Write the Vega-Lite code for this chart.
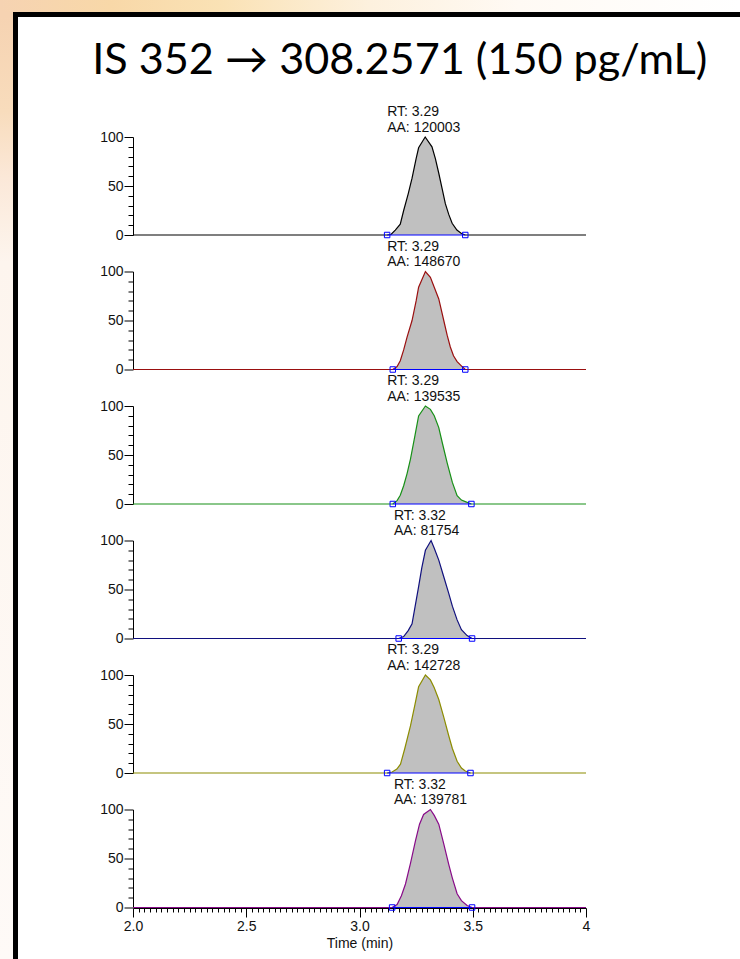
{
  "$schema": "https://vega.github.io/schema/vega-lite/v6.json",
  "background": "white",
  "padding": 0,
  "spacing": 0,
  "config": {
    "view": {"stroke": null},
    "concat": {"spacing": 0},
    "axis": {
      "labelFont": "Liberation Sans",
      "labelFontSize": 14,
      "labelColor": "#111111",
      "titleFont": "Liberation Sans",
      "titleFontSize": 14,
      "titleFontWeight": "normal",
      "titleColor": "#111111",
      "domainColor": "black",
      "tickColor": "black",
      "grid": false
    }
  },
  "vconcat": [
    {
      "width": 740,
      "height": 12,
      "data": {"values": [{}]},
      "mark": {"type": "rect", "fill": {"gradient": "linear", "x1": 0, "y1": 0, "x2": 1, "y2": 0, "stops": [{"offset": 0, "color": "#f6d3b2"}, {"offset": 0.15, "color": "#f8d8a8"}, {"offset": 0.3, "color": "#fae2b5"}, {"offset": 0.5, "color": "#fdf1de"}, {"offset": 0.7, "color": "#fffaf4"}, {"offset": 1, "color": "#ffffff"}]}},
      "encoding": {}
    },
    {
      "spacing": 0,
      "hconcat": [
        {
          "width": 13,
          "height": 5,
          "data": {"values": [{}]},
          "mark": {"type": "rect", "fill": "#f6d3b2"},
          "encoding": {}
        },
        {
          "width": 727,
          "height": 5,
          "data": {"values": [{}]},
          "mark": {"type": "rect", "fill": "black"},
          "encoding": {}
        }
      ]
    },
    {
      "spacing": 0,
      "hconcat": [
        {
          "width": 13,
          "height": 942,
          "data": {"values": [{}]},
          "mark": {"type": "rect", "fill": {"gradient": "linear", "x1": 0, "y1": 0, "x2": 0, "y2": 1, "stops": [{"offset": 0, "color": "#f6d3b2"}, {"offset": 0.1, "color": "#f8dcbc"}, {"offset": 0.17, "color": "#fbe8d8"}, {"offset": 0.26, "color": "#fdf5ee"}, {"offset": 1, "color": "#fefaf7"}]}},
          "encoding": {}
        },
        {
          "width": 5,
          "height": 942,
          "data": {"values": [{}]},
          "mark": {"type": "rect", "fill": "black"},
          "encoding": {}
        },
        {
          "width": 73.5,
          "height": 1,
          "data": {"values": [{}]},
          "mark": {"type": "rect", "opacity": 0},
          "encoding": {}
        },
        {
          "spacing": 0,
          "vconcat": [
            {
              "width": 1,
              "height": 21,
              "data": {"values": [{}]},
              "mark": {"type": "rect", "opacity": 0},
              "encoding": {}
            },
            {
              "title": {"text": "IS 352 → 308.2571 (150 pg/mL)", "font": "Lato", "fontSize": 43.2, "fontWeight": "normal", "color": "black", "anchor": "middle", "dx": 55, "offset": 22},
              "data": {"values": [
                {"panel": 1, "kind": "trace", "t": 2.0, "y": 0},
                {"panel": 1, "kind": "trace", "t": 3.122, "y": 0},
                {"panel": 1, "kind": "trace", "t": 3.139, "y": 0.5},
                {"panel": 1, "kind": "trace", "t": 3.158, "y": 5},
                {"panel": 1, "kind": "trace", "t": 3.18, "y": 11},
                {"panel": 1, "kind": "trace", "t": 3.195, "y": 25},
                {"panel": 1, "kind": "trace", "t": 3.215, "y": 42},
                {"panel": 1, "kind": "trace", "t": 3.232, "y": 58},
                {"panel": 1, "kind": "trace", "t": 3.25, "y": 78},
                {"panel": 1, "kind": "trace", "t": 3.261, "y": 89},
                {"panel": 1, "kind": "trace", "t": 3.29, "y": 100},
                {"panel": 1, "kind": "trace", "t": 3.32, "y": 90},
                {"panel": 1, "kind": "trace", "t": 3.335, "y": 78},
                {"panel": 1, "kind": "trace", "t": 3.35, "y": 63},
                {"panel": 1, "kind": "trace", "t": 3.365, "y": 47},
                {"panel": 1, "kind": "trace", "t": 3.379, "y": 32},
                {"panel": 1, "kind": "trace", "t": 3.394, "y": 21},
                {"panel": 1, "kind": "trace", "t": 3.409, "y": 12},
                {"panel": 1, "kind": "trace", "t": 3.43, "y": 5},
                {"panel": 1, "kind": "trace", "t": 3.45, "y": 1.5},
                {"panel": 1, "kind": "trace", "t": 3.467, "y": 0},
                {"panel": 1, "kind": "trace", "t": 4.0, "y": 0},

                {"panel": 2, "kind": "trace", "t": 2.0, "y": 0},
                {"panel": 2, "kind": "trace", "t": 3.147, "y": 0},
                {"panel": 2, "kind": "trace", "t": 3.166, "y": 3},
                {"panel": 2, "kind": "trace", "t": 3.18, "y": 9},
                {"panel": 2, "kind": "trace", "t": 3.195, "y": 20},
                {"panel": 2, "kind": "trace", "t": 3.21, "y": 33},
                {"panel": 2, "kind": "trace", "t": 3.232, "y": 50},
                {"panel": 2, "kind": "trace", "t": 3.25, "y": 70},
                {"panel": 2, "kind": "trace", "t": 3.261, "y": 84},
                {"panel": 2, "kind": "trace", "t": 3.291, "y": 100},
                {"panel": 2, "kind": "trace", "t": 3.313, "y": 94},
                {"panel": 2, "kind": "trace", "t": 3.33, "y": 84},
                {"panel": 2, "kind": "trace", "t": 3.35, "y": 72},
                {"panel": 2, "kind": "trace", "t": 3.372, "y": 50},
                {"panel": 2, "kind": "trace", "t": 3.387, "y": 35},
                {"panel": 2, "kind": "trace", "t": 3.401, "y": 23},
                {"panel": 2, "kind": "trace", "t": 3.415, "y": 14},
                {"panel": 2, "kind": "trace", "t": 3.431, "y": 8},
                {"panel": 2, "kind": "trace", "t": 3.453, "y": 3},
                {"panel": 2, "kind": "trace", "t": 3.467, "y": 0},
                {"panel": 2, "kind": "trace", "t": 4.0, "y": 0},

                {"panel": 3, "kind": "trace", "t": 2.0, "y": 0},
                {"panel": 3, "kind": "trace", "t": 3.147, "y": 0},
                {"panel": 3, "kind": "trace", "t": 3.166, "y": 3.4},
                {"panel": 3, "kind": "trace", "t": 3.18, "y": 9},
                {"panel": 3, "kind": "trace", "t": 3.195, "y": 18.6},
                {"panel": 3, "kind": "trace", "t": 3.21, "y": 31},
                {"panel": 3, "kind": "trace", "t": 3.225, "y": 45.8},
                {"panel": 3, "kind": "trace", "t": 3.245, "y": 70},
                {"panel": 3, "kind": "trace", "t": 3.261, "y": 89.8},
                {"panel": 3, "kind": "trace", "t": 3.291, "y": 100},
                {"panel": 3, "kind": "trace", "t": 3.313, "y": 96.6},
                {"panel": 3, "kind": "trace", "t": 3.33, "y": 90},
                {"panel": 3, "kind": "trace", "t": 3.35, "y": 78},
                {"panel": 3, "kind": "trace", "t": 3.365, "y": 63},
                {"panel": 3, "kind": "trace", "t": 3.387, "y": 42},
                {"panel": 3, "kind": "trace", "t": 3.41, "y": 22},
                {"panel": 3, "kind": "trace", "t": 3.431, "y": 8.5},
                {"panel": 3, "kind": "trace", "t": 3.45, "y": 4},
                {"panel": 3, "kind": "trace", "t": 3.467, "y": 2.4},
                {"panel": 3, "kind": "trace", "t": 3.494, "y": 0},
                {"panel": 3, "kind": "trace", "t": 4.0, "y": 0},

                {"panel": 4, "kind": "trace", "t": 2.0, "y": 0},
                {"panel": 4, "kind": "trace", "t": 3.173, "y": 0},
                {"panel": 4, "kind": "trace", "t": 3.195, "y": 2},
                {"panel": 4, "kind": "trace", "t": 3.215, "y": 8},
                {"panel": 4, "kind": "trace", "t": 3.232, "y": 15},
                {"panel": 4, "kind": "trace", "t": 3.245, "y": 32},
                {"panel": 4, "kind": "trace", "t": 3.261, "y": 53},
                {"panel": 4, "kind": "trace", "t": 3.275, "y": 72},
                {"panel": 4, "kind": "trace", "t": 3.291, "y": 90},
                {"panel": 4, "kind": "trace", "t": 3.316, "y": 100},
                {"panel": 4, "kind": "trace", "t": 3.33, "y": 92},
                {"panel": 4, "kind": "trace", "t": 3.35, "y": 80},
                {"panel": 4, "kind": "trace", "t": 3.372, "y": 63},
                {"panel": 4, "kind": "trace", "t": 3.394, "y": 46},
                {"panel": 4, "kind": "trace", "t": 3.41, "y": 33},
                {"panel": 4, "kind": "trace", "t": 3.431, "y": 19},
                {"panel": 4, "kind": "trace", "t": 3.45, "y": 9},
                {"panel": 4, "kind": "trace", "t": 3.475, "y": 3},
                {"panel": 4, "kind": "trace", "t": 3.497, "y": 0},
                {"panel": 4, "kind": "trace", "t": 4.0, "y": 0},

                {"panel": 5, "kind": "trace", "t": 2.0, "y": 0},
                {"panel": 5, "kind": "trace", "t": 3.122, "y": 0},
                {"panel": 5, "kind": "trace", "t": 3.144, "y": 1},
                {"panel": 5, "kind": "trace", "t": 3.165, "y": 4},
                {"panel": 5, "kind": "trace", "t": 3.181, "y": 9},
                {"panel": 5, "kind": "trace", "t": 3.2, "y": 25},
                {"panel": 5, "kind": "trace", "t": 3.225, "y": 48},
                {"panel": 5, "kind": "trace", "t": 3.245, "y": 70},
                {"panel": 5, "kind": "trace", "t": 3.261, "y": 88},
                {"panel": 5, "kind": "trace", "t": 3.291, "y": 100},
                {"panel": 5, "kind": "trace", "t": 3.313, "y": 95},
                {"panel": 5, "kind": "trace", "t": 3.33, "y": 87},
                {"panel": 5, "kind": "trace", "t": 3.35, "y": 75},
                {"panel": 5, "kind": "trace", "t": 3.372, "y": 57},
                {"panel": 5, "kind": "trace", "t": 3.394, "y": 38},
                {"panel": 5, "kind": "trace", "t": 3.41, "y": 25},
                {"panel": 5, "kind": "trace", "t": 3.431, "y": 12},
                {"panel": 5, "kind": "trace", "t": 3.45, "y": 5},
                {"panel": 5, "kind": "trace", "t": 3.467, "y": 2},
                {"panel": 5, "kind": "trace", "t": 3.49, "y": 0},
                {"panel": 5, "kind": "trace", "t": 4.0, "y": 0},

                {"panel": 6, "kind": "trace", "t": 2.0, "y": 0},
                {"panel": 6, "kind": "trace", "t": 3.144, "y": 0},
                {"panel": 6, "kind": "trace", "t": 3.166, "y": 3},
                {"panel": 6, "kind": "trace", "t": 3.185, "y": 12},
                {"panel": 6, "kind": "trace", "t": 3.203, "y": 24},
                {"panel": 6, "kind": "trace", "t": 3.225, "y": 45},
                {"panel": 6, "kind": "trace", "t": 3.247, "y": 68},
                {"panel": 6, "kind": "trace", "t": 3.265, "y": 85},
                {"panel": 6, "kind": "trace", "t": 3.283, "y": 95},
                {"panel": 6, "kind": "trace", "t": 3.313, "y": 100},
                {"panel": 6, "kind": "trace", "t": 3.33, "y": 94},
                {"panel": 6, "kind": "trace", "t": 3.35, "y": 85},
                {"panel": 6, "kind": "trace", "t": 3.372, "y": 65},
                {"panel": 6, "kind": "trace", "t": 3.394, "y": 44},
                {"panel": 6, "kind": "trace", "t": 3.41, "y": 30},
                {"panel": 6, "kind": "trace", "t": 3.431, "y": 14},
                {"panel": 6, "kind": "trace", "t": 3.45, "y": 7},
                {"panel": 6, "kind": "trace", "t": 3.475, "y": 2},
                {"panel": 6, "kind": "trace", "t": 3.497, "y": 0},
                {"panel": 6, "kind": "trace", "t": 4.0, "y": 0},

                {"panel": 1, "kind": "bound", "t": 3.122, "y": 0},
                {"panel": 1, "kind": "bound", "t": 3.467, "y": 0},
                {"panel": 2, "kind": "bound", "t": 3.147, "y": 0},
                {"panel": 2, "kind": "bound", "t": 3.467, "y": 0},
                {"panel": 3, "kind": "bound", "t": 3.147, "y": 0},
                {"panel": 3, "kind": "bound", "t": 3.494, "y": 0},
                {"panel": 4, "kind": "bound", "t": 3.173, "y": 0},
                {"panel": 4, "kind": "bound", "t": 3.497, "y": 0},
                {"panel": 5, "kind": "bound", "t": 3.122, "y": 0},
                {"panel": 5, "kind": "bound", "t": 3.49, "y": 0},
                {"panel": 6, "kind": "bound", "t": 3.144, "y": 0},
                {"panel": 6, "kind": "bound", "t": 3.497, "y": 0},

                {"panel": 1, "kind": "label", "t": 3.29, "y": 100, "note": "RT: 3.29\nAA: 120003"},
                {"panel": 2, "kind": "label", "t": 3.29, "y": 100, "note": "RT: 3.29\nAA: 148670"},
                {"panel": 3, "kind": "label", "t": 3.29, "y": 100, "note": "RT: 3.29\nAA: 139535"},
                {"panel": 4, "kind": "label", "t": 3.32, "y": 100, "note": "RT: 3.32\nAA: 81754"},
                {"panel": 5, "kind": "label", "t": 3.29, "y": 100, "note": "RT: 3.29\nAA: 142728"},
                {"panel": 6, "kind": "label", "t": 3.32, "y": 100, "note": "RT: 3.32\nAA: 139781"}
              ]},
              "facet": {"row": {"field": "panel", "type": "ordinal", "header": {"title": null, "labels": false}}},
              "spacing": 36.5,
              "bounds": "flush",
              "spec": {
                "width": 453,
                "height": 98,
                "encoding": {
                  "x": {
                    "field": "t", "type": "quantitative",
                    "scale": {"domain": [2, 4], "nice": false, "zero": false},
                    "axis": {
                      "title": "Time (min)",
                      "values": [2, 2.025, 2.05, 2.075, 2.1, 2.125, 2.15, 2.175, 2.2, 2.225, 2.25, 2.275, 2.3, 2.325, 2.35, 2.375, 2.4, 2.425, 2.45, 2.475, 2.5, 2.525, 2.55, 2.575, 2.6, 2.625, 2.65, 2.675, 2.7, 2.725, 2.75, 2.775, 2.8, 2.825, 2.85, 2.875, 2.9, 2.925, 2.95, 2.975, 3, 3.025, 3.05, 3.075, 3.1, 3.125, 3.15, 3.175, 3.2, 3.225, 3.25, 3.275, 3.3, 3.325, 3.35, 3.375, 3.4, 3.425, 3.45, 3.475, 3.5, 3.525, 3.55, 3.575, 3.6, 3.625, 3.65, 3.675, 3.7, 3.725, 3.75, 3.775, 3.8, 3.825, 3.85, 3.875, 3.9, 3.925, 3.95, 3.975, 4],
                      "labelExpr": "abs(datum.value * 2 - round(datum.value * 2)) < 0.000001 ? (datum.value == 4 ? '4' : format(datum.value, '.1f')) : ''",
                      "tickSize": {"condition": {"test": "abs(datum.value * 2 - round(datum.value * 2)) < 0.000001", "value": 9}, "value": 4},
                      "labelOverlap": false,
                      "labelFlush": false,
                      "labelPadding": 2,
                      "titlePadding": 3
                    }
                  },
                  "y": {
                    "field": "y", "type": "quantitative",
                    "scale": {"domain": [0, 100], "nice": false},
                    "axis": {
                      "title": null,
                      "values": [0, 10, 20, 30, 40, 50, 60, 70, 80, 90, 100],
                      "labelExpr": "datum.value % 50 === 0 ? datum.label : ''",
                      "tickSize": {"condition": {"test": "datum.value % 50 === 0", "value": 9}, "value": 5},
                      "labelOverlap": false,
                      "labelPadding": 1
                    }
                  }
                },
                "layer": [
                  {
                    "transform": [{"filter": "datum.kind === 'trace'"}],
                    "mark": {"type": "area", "color": "#c0c0c0"}
                  },
                  {
                    "transform": [{"filter": "datum.kind === 'trace'"}],
                    "mark": {"type": "line", "strokeWidth": 1.2},
                    "encoding": {
                      "color": {"field": "panel", "type": "nominal", "scale": {"domain": [1, 2, 3, 4, 5, 6], "range": ["#000000", "#9a0f0f", "#169016", "#10107e", "#8c8c00", "#880a88"]}, "legend": null}
                    }
                  },
                  {
                    "transform": [{"filter": "datum.kind === 'bound'"}],
                    "mark": {"type": "line", "color": "#0000ff", "strokeWidth": 1.2}
                  },
                  {
                    "transform": [{"filter": "datum.kind === 'bound'"}],
                    "mark": {"type": "point", "shape": "square", "filled": false, "size": 30, "color": "#0000ff", "strokeWidth": 1, "opacity": 1}
                  },
                  {
                    "transform": [{"filter": "datum.kind === 'label'"}],
                    "mark": {"type": "text", "align": "left", "baseline": "bottom", "dx": -38, "dy": -18, "lineBreak": "\n", "lineHeight": 15.7, "font": "Liberation Sans", "fontSize": 14, "color": "#111111"},
                    "encoding": {"text": {"field": "note", "type": "nominal"}}
                  }
                ]
              }
            }
          ]
        }
      ]
    }
  ]
}
